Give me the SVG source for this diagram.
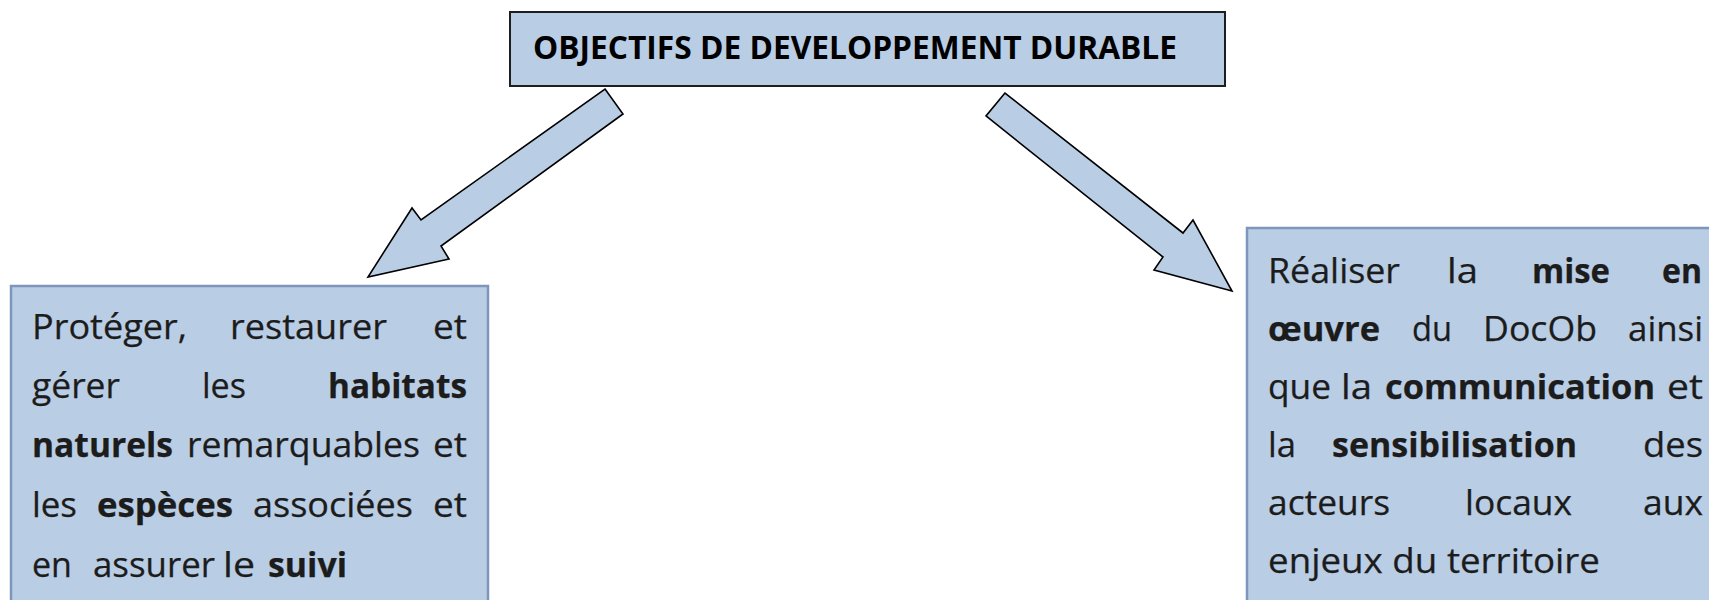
<svg xmlns="http://www.w3.org/2000/svg" width="1709" height="600" viewBox="0 0 1709 600">
<style>
  .box { fill: #b9cde5; }
  .top { stroke: #1e1e1e; stroke-width: 2; }
  .sub { stroke: #7d96bb; stroke-width: 2.5; }
  .arrow { fill: #b9cde5; stroke: #000; stroke-width: 1.6; stroke-linejoin: miter; }
  .t { font-family: "Open Sans", "Liberation Sans", sans-serif; font-size: 34px; fill: #1c1c1c; stroke: #1c1c1c; stroke-width: 0.25; }
  .h { font-family: "Open Sans", "Liberation Sans", sans-serif; font-size: 32px; font-weight: 700; fill: #000; }
  .b { font-weight: 700; }
</style>
<rect width="1709" height="600" fill="#ffffff"/>

<g id="node-top">
  <rect class="box top" x="510" y="12" width="715" height="74"/>
  <text class="h" x="533" y="59" textLength="644" lengthAdjust="spacingAndGlyphs">OBJECTIFS DE DEVELOPPEMENT DURABLE</text>
</g>

<g id="connectors">
  <polygon class="arrow" points="605,89 623,114 441,246 449,259 368,277 412,208 421,220"/>
  <polygon class="arrow" points="1005,93 986,116 1163,257 1154,270 1232,291 1193,220 1183,233"/>
</g>

<g id="node-left">
  <rect class="box sub" x="11" y="286" width="477" height="330"/>
  <text class="t" y="339"><tspan x="32" textLength="155" lengthAdjust="spacingAndGlyphs">Protéger,</tspan><tspan x="230" textLength="157" lengthAdjust="spacingAndGlyphs">restaurer</tspan><tspan x="433" textLength="34" lengthAdjust="spacingAndGlyphs">et</tspan></text>
  <text class="t" y="398"><tspan x="32" textLength="88" lengthAdjust="spacingAndGlyphs">gérer</tspan><tspan x="202" textLength="44" lengthAdjust="spacingAndGlyphs">les</tspan><tspan class="b" x="328" textLength="139" lengthAdjust="spacingAndGlyphs">habitats</tspan></text>
  <text class="t" y="457"><tspan class="b" x="32" textLength="141" lengthAdjust="spacingAndGlyphs">naturels</tspan><tspan x="187" textLength="233" lengthAdjust="spacingAndGlyphs">remarquables</tspan><tspan x="433" textLength="34" lengthAdjust="spacingAndGlyphs">et</tspan></text>
  <text class="t" y="517"><tspan x="32" textLength="45" lengthAdjust="spacingAndGlyphs">les</tspan><tspan class="b" x="97" textLength="136" lengthAdjust="spacingAndGlyphs">espèces</tspan><tspan x="253" textLength="160" lengthAdjust="spacingAndGlyphs">associées</tspan><tspan x="433" textLength="34" lengthAdjust="spacingAndGlyphs">et</tspan></text>
  <text class="t" y="577"><tspan x="32" textLength="40" lengthAdjust="spacingAndGlyphs">en</tspan><tspan x="93" textLength="122" lengthAdjust="spacingAndGlyphs">assurer</tspan><tspan x="223" textLength="32" lengthAdjust="spacingAndGlyphs">le</tspan><tspan class="b" x="268" textLength="79" lengthAdjust="spacingAndGlyphs">suivi</tspan></text>
</g>

<g id="node-right">
  <rect class="box sub" x="1247" y="228" width="480" height="390"/>
  <text class="t" y="283"><tspan x="1268" textLength="132" lengthAdjust="spacingAndGlyphs">Réaliser</tspan><tspan x="1447" textLength="31" lengthAdjust="spacingAndGlyphs">la</tspan><tspan class="b" x="1532" textLength="78" lengthAdjust="spacingAndGlyphs">mise</tspan><tspan class="b" x="1662" textLength="40" lengthAdjust="spacingAndGlyphs">en</tspan></text>
  <text class="t" y="341"><tspan class="b" x="1268" textLength="112" lengthAdjust="spacingAndGlyphs">œuvre</tspan><tspan x="1412" textLength="40" lengthAdjust="spacingAndGlyphs">du</tspan><tspan x="1483" textLength="114" lengthAdjust="spacingAndGlyphs">DocOb</tspan><tspan x="1628" textLength="75" lengthAdjust="spacingAndGlyphs">ainsi</tspan></text>
  <text class="t" y="399"><tspan x="1268" textLength="63" lengthAdjust="spacingAndGlyphs">que</tspan><tspan x="1341" textLength="31" lengthAdjust="spacingAndGlyphs">la</tspan><tspan class="b" x="1385" textLength="270" lengthAdjust="spacingAndGlyphs">communication</tspan><tspan x="1667" textLength="36" lengthAdjust="spacingAndGlyphs">et</tspan></text>
  <text class="t" y="457"><tspan x="1268" textLength="28" lengthAdjust="spacingAndGlyphs">la</tspan><tspan class="b" x="1332" textLength="245" lengthAdjust="spacingAndGlyphs">sensibilisation</tspan><tspan x="1643" textLength="60" lengthAdjust="spacingAndGlyphs">des</tspan></text>
  <text class="t" y="515"><tspan x="1268" textLength="122" lengthAdjust="spacingAndGlyphs">acteurs</tspan><tspan x="1465" textLength="107" lengthAdjust="spacingAndGlyphs">locaux</tspan><tspan x="1643" textLength="60" lengthAdjust="spacingAndGlyphs">aux</tspan></text>
  <text class="t" x="1268" y="573" textLength="332" lengthAdjust="spacingAndGlyphs">enjeux du territoire</text>
</g>
</svg>
